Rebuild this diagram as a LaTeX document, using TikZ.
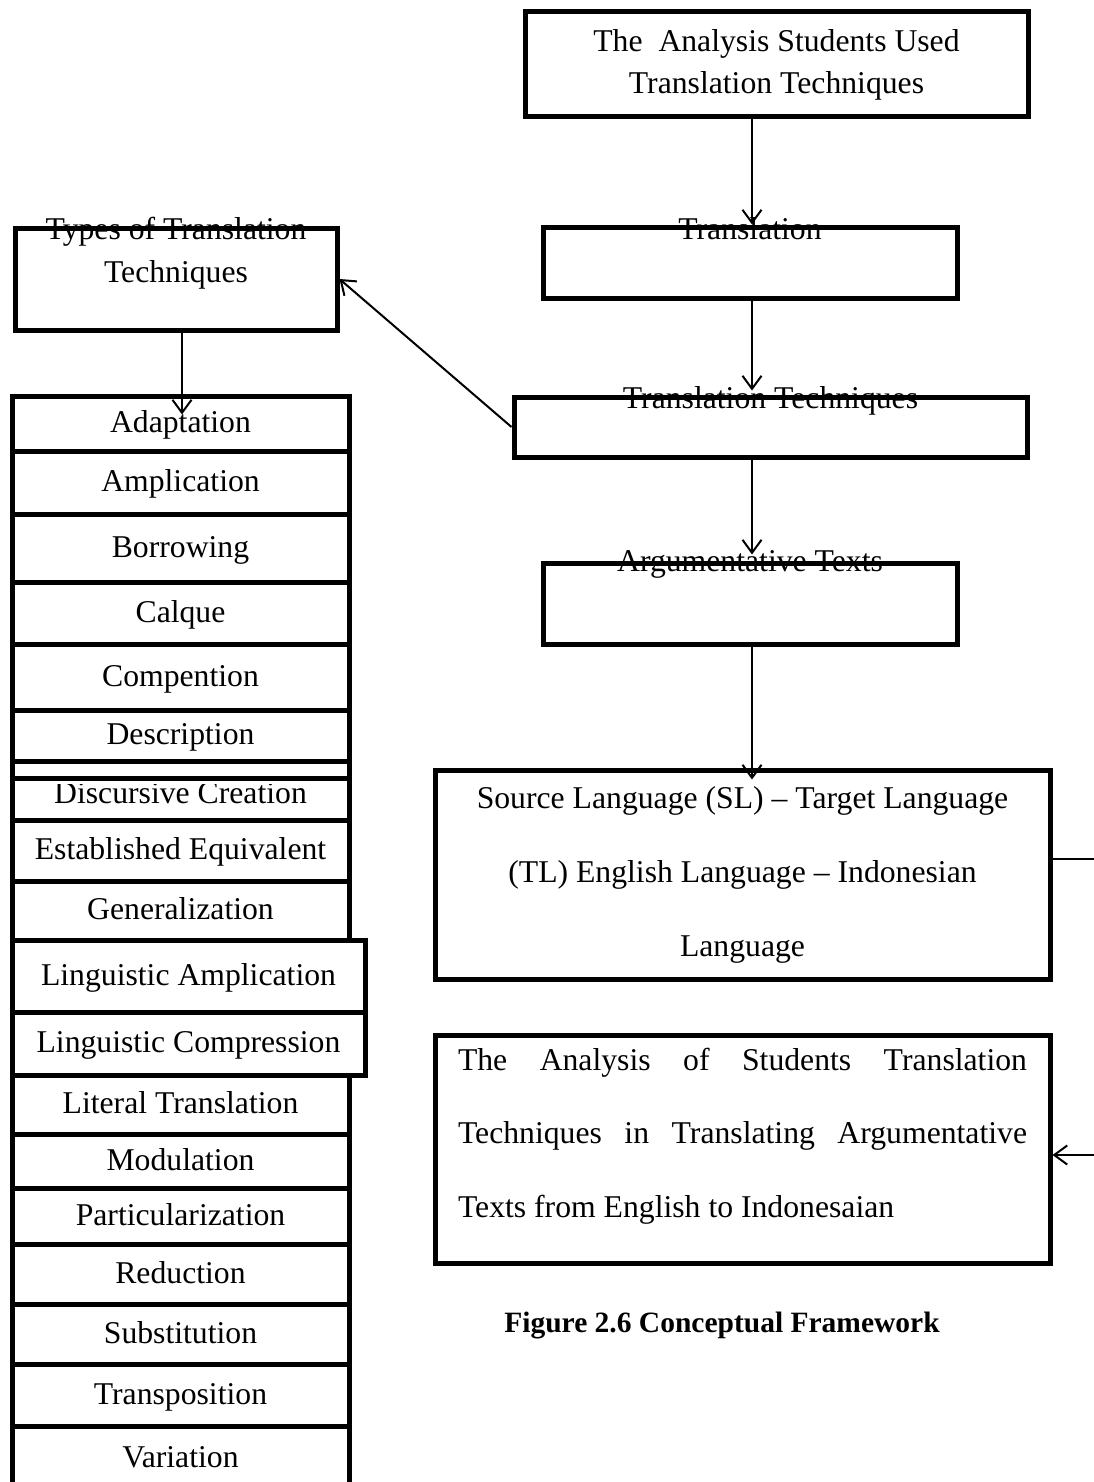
\documentclass[tikz,border=0pt]{standalone}
\usepackage{fontspec}
\setmainfont{Liberation Serif}
\usetikzlibrary{arrows.meta}
\begin{document}
\begin{tikzpicture}[x=1pt,y=-1pt,
  box/.style={draw, line width=5pt, inner sep=0pt, align=center, font=\fontsize{31.7}{42}\selectfont},
  row/.style={box, minimum width=337pt, text height=22pt, text depth=4pt},
  wrow/.style={box, minimum width=353pt, text height=22pt, text depth=4pt},
  lbl/.style={inner sep=0pt, font=\fontsize{31.7}{42}\selectfont},
  conn/.style={line width=2pt},
  arr/.style={conn, -{Straight Barb[length=13pt,width=19pt]}},
]
\path[fill=white] (0,0) rectangle (1094,1482);
\useasboundingbox (0,0) rectangle (1094,1482);

% right column
\node[box, minimum width=503pt, minimum height=105pt] (top) at (776.5,64.5) {The~ Analysis Students Used\\Translation Techniques};
\node[box, minimum width=414pt, minimum height=71pt] (trans) at (750,262.5) {};
\node[lbl, anchor=base] (transT) at ([yshift=-14.5pt]trans.north) {Translation};
\node[box, minimum width=513pt, minimum height=60pt] (tt) at (770.5,427) {};
\node[lbl, anchor=base] (ttT) at ([yshift=-13.5pt]tt.north) {Translation Techniques};
\node[box, minimum width=414pt, minimum height=81pt] (arg) at (750,603.5) {};
\node[lbl, anchor=base] (argT) at ([yshift=-10.5pt]arg.north) {Argumentative Texts};
\node[box, minimum width=615pt, minimum height=209pt, font=\fontsize{31.7}{74}\selectfont] (sl) at (742.5,874.5) {Source Language (SL) – Target Language\\(TL) English Language – Indonesian\\Language};
\node[box, minimum width=615pt, minimum height=228pt] (ana) at (742.5,1149) {};
\node[lbl, align=left, font=\fontsize{31.7}{73.5}\selectfont] (anaT) at ([yshift=13pt]ana.center) {\makebox[569pt][s]{The Analysis of Students Translation}\\\makebox[569pt][s]{Techniques in Translating Argumentative}\\\makebox[569pt][l]{Texts from English to Indonesaian}};
\node[inner sep=0pt, font=\bfseries\fontsize{29.5}{36}\selectfont] (cap) at (722,1326) {Figure 2.6 Conceptual Framework};

% left column
\node[box, minimum width=322pt, minimum height=102pt] (types) at (176,279) {};
\node[lbl, anchor=base] (typesT1) at ([yshift=-13.5pt]types.north) {Types of Translation};
\node[lbl, anchor=base] (typesT2) at ([yshift=-56.5pt]types.north) {Techniques};

\node[row, minimum height=55pt] (r1) at (180.5,423.5) {Adaptation};
\node[row, minimum height=63pt] (r2) at (180.5,482.5) {Amplication};
\node[row, minimum height=68pt] (r3) at (180.5,548) {Borrowing};
\node[row, minimum height=62pt] (r4) at (180.5,613) {Calque};
\node[row, minimum height=66pt] (r5) at (180.5,677) {Compention};
\node[row, minimum height=51pt] (r6) at (180.5,735.5) {Description};
\node[row, minimum height=59pt] (r7) at (180.5,790.5) {};
\draw[line width=5pt] (r7.west |- 0,778) -- (r7.east |- 0,778);
\begin{scope}
  \clip (9.5,784) rectangle (351.5,818);
  \node[lbl, anchor=base] (r7T) at (180.5,803) {Discursive Creation};
\end{scope}
\node[row, minimum height=61pt] (r8) at (180.5,850.5) {Established Equivalent};
\node[row, minimum height=59pt] (r9) at (180.5,910.5) {Generalization};
\node[wrow, minimum height=72pt] (r10) at (188.5,976) {Linguistic Amplication};
\node[wrow, minimum height=63pt] (r11) at (188.5,1043.5) {Linguistic Compression};
\node[row, minimum height=59pt] (r12) at (180.5,1104.5) {Literal Translation};
\node[row, minimum height=54pt] (r13) at (180.5,1161) {Modulation};
\node[row, minimum height=56pt] (r14) at (180.5,1216) {Particularization};
\node[row, minimum height=60pt] (r15) at (180.5,1274) {Reduction};
\node[row, minimum height=60pt] (r16) at (180.5,1334) {Substitution};
\node[row, minimum height=62pt] (r17) at (180.5,1395) {Transposition};
\node[row, minimum height=64pt] (r18) at (180.5,1458) {Variation};

% connectors
\coordinate (ax) at (752,0);
\coordinate (lx) at (182,0);
\coordinate (ra) at (1094,859);
\coordinate (rb) at (1094,1155);
\draw[arr] (top.south -| ax) -- (trans.north -| ax);
\draw[arr, shorten >=4pt] (trans.south -| ax) -- (tt.north -| ax);
\draw[arr, shorten >=6pt] (tt.south -| ax) -- (arg.north -| ax);
\draw[arr, shorten >=-12pt] (arg.south -| ax) -- (sl.north -| ax);
\draw[arr] (tt.west) -- (types.east);
\draw[arr, shorten >=-21pt] (types.south -| lx) -- (r1.north -| lx);
\draw[conn] (sl.east |- ra) -- (ra);
\draw[arr] (rb) -- (ana.east |- rb);
\end{tikzpicture}
\end{document}
